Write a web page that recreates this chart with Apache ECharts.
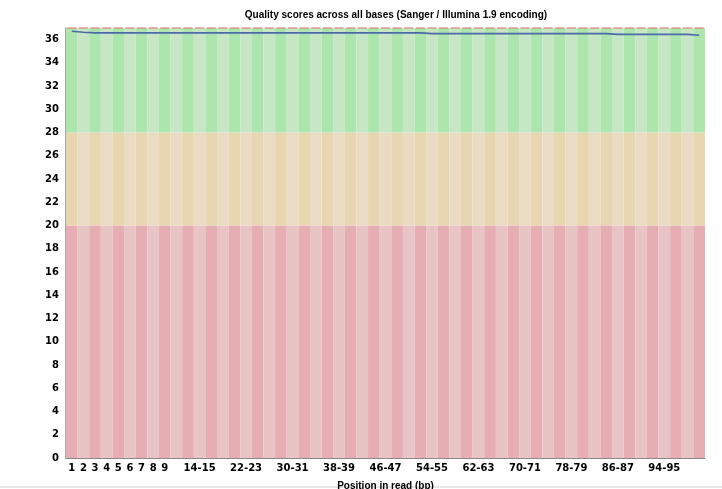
<!DOCTYPE html>
<html><head><meta charset="utf-8">
<script src="https://cdn.jsdelivr.net/npm/echarts@6/dist/echarts.min.js"></script>
<style>html,body{margin:0;padding:0;background:#fff}#c{width:722px;height:489px}</style>
</head><body><div id="c"></div>
<script>
const categories = ["1","2","3","4","5","6","7","8","9",
 "10-11","12-13","14-15","16-17","18-19","20-21","22-23","24-25","26-27","28-29",
 "30-31","32-33","34-35","36-37","38-39","40-41","42-43","44-45","46-47","48-49",
 "50-51","52-53","54-55","56-57","58-59","60-61","62-63","64-65","66-67","68-69",
 "70-71","72-73","74-75","76-77","78-79","80-81","82-83","84-85","86-87","88-89",
 "90-91","92-93","94-95","96-97","98-99","100-101"];
const meanQuality = [36.72,36.64,36.58,36.58,36.58,36.58,36.58,36.58,36.58,
 36.58,36.58,36.58,36.58,36.58,36.58,36.58,36.58,36.58,36.58,
 36.58,36.58,36.58,36.58,36.58,36.58,36.58,36.58,36.58,36.58,
 36.58,36.58,36.52,36.52,36.52,36.52,36.52,36.52,36.52,36.52,
 36.52,36.52,36.52,36.52,36.52,36.52,36.52,36.52,36.45,36.45,
 36.45,36.45,36.45,36.45,36.45,36.38];
const medianQuality = categories.map(() => 37);
const bandEdges = [20, 28, 37];     // bad / ok / good upper bounds
const yTicks = {min: 0, max: 37, interval: 2};

const bandColors = [
  ['#e6adb2', '#e8c4c6'],
  ['#e8d6b0', '#eadcc4'],
  ['#ade6ad', '#c6e6c6']
];
const bandSeries = bandEdges.map((top, b) => {
  const bottom = b === 0 ? 0 : bandEdges[b - 1];
  return {
    type: 'bar', stack: 'bands', silent: true,
    barCategoryGap: 0, barGap: 0,
    data: categories.map((c, i) => ({
      value: top - bottom,
      itemStyle: {color: bandColors[b][i % 2]}
    })),
    z: 1
  };
});

const chart = echarts.init(document.getElementById('c'), null, {renderer: 'canvas'});
chart.setOption({
  animation: false,
  title: {
    text: 'Quality scores across all bases (Sanger / Illumina 1.9 encoding)',
    left: 391, top: 5, textAlign: 'center',
    textStyle: {fontFamily: 'Liberation Sans', fontWeight: 'bold', fontSize: 10, color: '#000'}
  },
  grid: {left: 66, right: 17, top: 28, bottom: 31, containLabel: false, outerBoundsMode: 'none'},
  xAxis: {
    type: 'category', data: categories, boundaryGap: true,
    axisLine: {lineStyle: {color: '#8a8a8a', width: 1}},
    axisTick: {show: false},
    axisLabel: {
      color: '#000', fontFamily: 'DejaVu Sans', fontWeight: 'bold', fontSize: 10, margin: 5,
      interval: (i) => i < 9 || (i >= 11 && (i - 11) % 4 === 0)
    },
    name: 'Position in read (bp)', nameLocation: 'middle', nameGap: 23,
    nameTextStyle: {fontFamily: 'Liberation Sans', fontWeight: 'bold', fontSize: 10, color: '#000'}
  },
  yAxis: {
    type: 'value', min: yTicks.min, max: yTicks.max, interval: yTicks.interval,
    axisLine: {show: true, lineStyle: {color: '#8a8a8a', width: 1.5}},
    axisTick: {show: false},
    splitLine: {show: false},
    axisLabel: {color: '#000', fontFamily: 'DejaVu Sans', fontWeight: 'bold', fontSize: 10, margin: 7, showMaxLabel: false}
  },
  graphic: [{type: 'line', shape: {x1: 0, y1: 487, x2: 722, y2: 487}, style: {stroke: '#cfcfcf', lineWidth: 1}, z: 0}],
  series: [
    ...bandSeries,
    {
      type: 'scatter', data: medianQuality, symbol: 'rect', symbolSize: [9, 1.6],
      itemStyle: {color: '#d98a78'}, clip: false, silent: true, z: 5
    },
    {
      type: 'line', data: meanQuality, symbol: 'none', silent: true,
      lineStyle: {color: '#4a6aa8', width: 1.6}, z: 6
    }
  ]
});
</script></body></html>
